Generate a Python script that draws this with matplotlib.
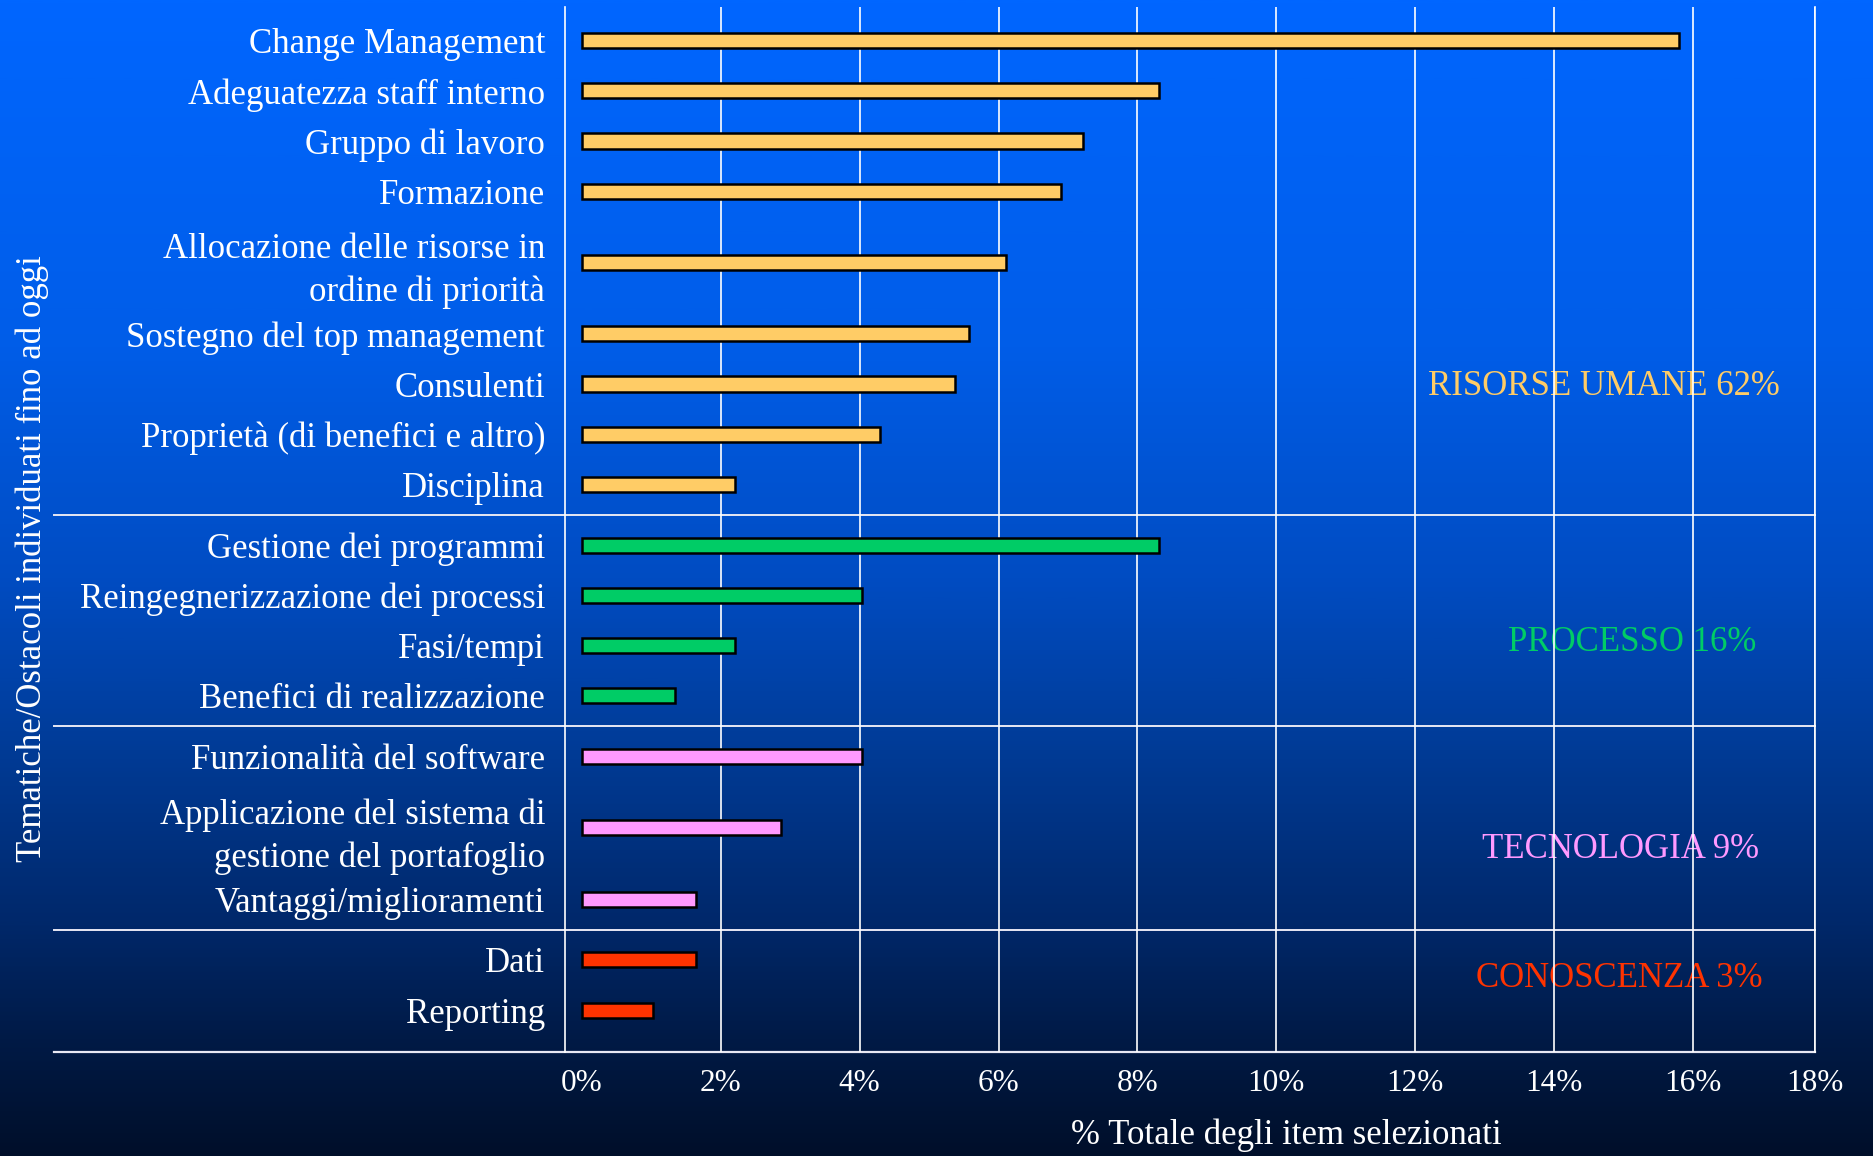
import numpy as np
import matplotlib
matplotlib.use("Agg")
import matplotlib.pyplot as plt
from matplotlib.colors import LinearSegmentedColormap

# Tematiche / ostacoli, dall'alto in basso
labels = [
    "Change Management",
    "Adeguatezza staff interno",
    "Gruppo di lavoro",
    "Formazione",
    "Allocazione delle risorse in\nordine di priorità",
    "Sostegno del top management",
    "Consulenti",
    "Proprietà (di benefici e altro)",
    "Disciplina",
    "Gestione dei programmi",
    "Reingegnerizzazione dei processi",
    "Fasi/tempi",
    "Benefici di realizzazione",
    "Funzionalità del software",
    "Applicazione del sistema di\ngestione del portafoglio",
    "Vantaggi/miglioramenti",
    "Dati",
    "Reporting",
]
# % sul totale degli item selezionati
values = [15.8, 8.31, 7.21, 6.9, 6.11, 5.58, 5.37, 4.29, 2.2,
          8.31, 4.04, 2.2, 1.34,
          4.04, 2.87, 1.65,
          1.65, 1.02]
groups = [0] * 9 + [1] * 4 + [2] * 3 + [3] * 2
group_names = ["RISORSE UMANE 62%", "PROCESSO 16%", "TECNOLOGIA 9%", "CONOSCENZA 3%"]
group_colors = ["#FFCC66", "#00CC66", "#FF99FF", "#FF3300"]
tick_values = [0, 2, 4, 6, 8, 10, 12, 14, 16, 18]

plt.rcParams["font.family"] = ["Liberation Serif", "DejaVu Serif"]

W, H = 1874, 1156
fig = plt.figure(figsize=(W / 100, H / 100), dpi=100)

# sfondo sfumato blu -> blu notte
bg = fig.add_axes([0, 0, 1, 1], zorder=0)
bg_cmap = LinearSegmentedColormap.from_list("bg", [
    (0.0, "#0066FF"), (0.3, "#005DE8"), (0.5, "#004CC2"), (0.65, "#003B96"),
    (0.8, "#00286A"), (0.9, "#001A46"), (1.0, "#000F2A")])
bg.imshow(np.linspace(0, 1, 512).reshape(-1, 1), aspect="auto", cmap=bg_cmap,
          extent=(0, 1, 0, 1))
bg.set_axis_off()

ax = fig.add_axes([0.3016, 0.0901, 0.6671, 0.9039], zorder=1)
ax.set_facecolor("none")

# posizioni verticali: passo 1, spazio extra per etichette su due righe e tra i gruppi
TWO_LINE_PAD = 0.42
GROUP_GAP = 0.21
ypos = []
y = 0.0
for i, lab in enumerate(labels):
    if i > 0:
        y += 1.0
        if "\n" in labels[i - 1]:
            y += TWO_LINE_PAD
        if "\n" in lab:
            y += TWO_LINE_PAD
        if groups[i] != groups[i - 1]:
            y += GROUP_GAP
    ypos.append(y)

colors = [group_colors[g] for g in groups]
ax.barh(ypos, values, height=0.3, color=colors, edgecolor="black",
        linewidth=1.8, zorder=2)

xmax = 17.76
ax.set_xlim(-0.24, xmax)
ax.set_ylim(ypos[-1] + 0.83, ypos[0] - 0.67)

ax.set_yticks(ypos)
ax.set_yticklabels(labels, fontsize=25, color="white", ha="right",
                   linespacing=1.38)
ax.tick_params(axis="y", length=0, pad=14.5)

xt = tick_values[:-1] + [xmax]
ax.set_xticks(xt)
ax.set_xticklabels([f"{v}%" for v in tick_values], fontsize=22.5, color="white")
ax.tick_params(axis="x", length=0, pad=12)

ax.set_axisbelow("line")
ax.grid(axis="x", color="white", linewidth=1.2)
ax.xaxis.get_gridlines()[0].set_visible(False)

for side in ("top", "bottom"):
    ax.spines[side].set_visible(False)
for side in ("left", "right"):
    ax.spines[side].set_color("white")
    ax.spines[side].set_linewidth(1.2)

# linee di separazione tra i gruppi, estese sotto le etichette
sep_left = -0.409
for i in range(1, len(ypos)):
    if groups[i] != groups[i - 1]:
        ax.axhline((ypos[i] + ypos[i - 1]) / 2, xmin=sep_left, xmax=1,
                   color="#E8E8F4", linewidth=1.4, clip_on=False, zorder=1.5)
ax.axhline(ax.get_ylim()[0], xmin=sep_left, xmax=1, color="#E8E8F4",
           linewidth=1.6, clip_on=False, zorder=1.5)

# etichette dei gruppi
group_label_pos = [(14.72, 6.88), (15.13, 11.98), (14.96, 16.12), (14.94, 18.67)]
for name, col, (gx, gy) in zip(group_names, group_colors, group_label_pos):
    ax.text(gx, gy, name, color=col, fontsize=25, ha="center", va="center",
            zorder=1)

ax.text(0.5765, -0.080, "% Totale degli item selezionati", transform=ax.transAxes,
        fontsize=25, color="white", ha="center", va="center")
ax.text(-0.426, 0.4725, "Tematiche/Ostacoli individuati fino ad oggi",
        transform=ax.transAxes, fontsize=25, color="white", rotation=90,
        ha="center", va="center")

fig.savefig("out.png", dpi=100)
